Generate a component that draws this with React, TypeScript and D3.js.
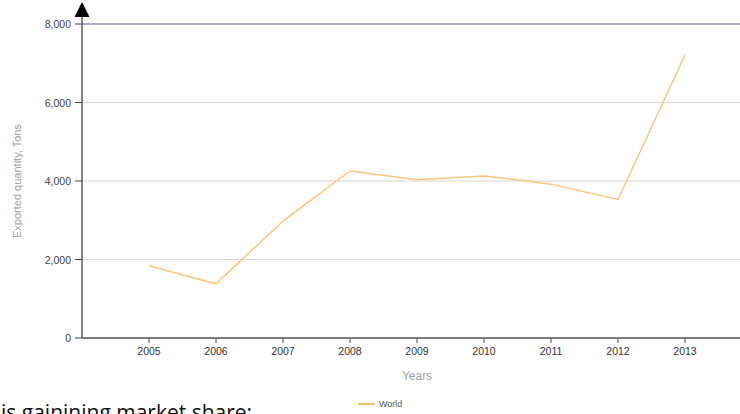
import React from "react";
import * as d3 from "d3";

const years = [2005, 2006, 2007, 2008, 2009, 2010, 2011, 2012, 2013];
const worldValues = [1840, 1380, 2980, 4255, 4030, 4130, 3920, 3530, 7210];
const yTicks = [0, 2000, 4000, 6000, 8000];
const seriesName = "World";
const xTitle = "Years";
const yTitle = "Exported quantity, Tons";
const caption = "is gainining market share:";

export default function App() {
  const W = 740, H = 414;
  const x = d3.scaleLinear().domain([2004, 2014]).range([82, 752]);
  const y = d3.scaleLinear().domain([0, 8000]).range([338, 24]);
  const line = d3
    .line<number>()
    .x((_, i) => x(years[i]))
    .y((d) => y(d));
  const fmt = d3.format(",");
  const font = "Liberation Sans, Arial, sans-serif";
  return (
    <svg
      width={W}
      height={H}
      style={{ position: "absolute", left: 0, top: 0, background: "#fff" }}
      fontFamily={font}
    >
      {yTicks.map((t) => (
        <g key={t}>
          {t > 0 && (
            <line
              x1={x(2004)}
              x2={W}
              y1={y(t)}
              y2={y(t)}
              stroke={t === 8000 ? "#8a93b6" : "#d4d4d4"}
              strokeWidth={t === 8000 ? 1.6 : 1}
            />
          )}
          <line x1={x(2004) - 7} x2={x(2004)} y1={y(t)} y2={y(t)} stroke="#444" strokeWidth={1} />
          <text x={x(2004) - 11} y={y(t) + 4} textAnchor="end" fontSize={10.5} fill="#444">
            {fmt(t)}
          </text>
        </g>
      ))}
      {years.map((yr) => (
        <g key={yr}>
          <line x1={x(yr)} x2={x(yr)} y1={y(0)} y2={y(0) + 5} stroke="#444" />
          <text x={x(yr)} y={y(0) + 17} textAnchor="middle" fontSize={10.5} fill="#333">
            {yr}
          </text>
        </g>
      ))}
      <line x1={x(2004)} x2={W} y1={y(0)} y2={y(0)} stroke="#555" strokeWidth={1.5} />
      <line x1={x(2004)} x2={x(2004)} y1={12} y2={y(0)} stroke="#333" strokeWidth={1.2} />
      <polygon
        points={`${x(2004)},2 ${x(2004) - 7.5},17 ${x(2004) + 7.5},17`}
        fill="#000"
      />
      <path d={line(worldValues) || ""} fill="none" stroke="#f8c77a" strokeWidth={1.5} />
      <text
        transform={`translate(21,${(y(0) + y(8000)) / 2}) rotate(-90)`}
        textAnchor="middle"
        fontSize={11}
        fill="#a0a0a0"
      >
        {yTitle}
      </text>
      <text x={x(2009)} y={380} textAnchor="middle" fontSize={12} fill="#a0a0a0">
        {xTitle}
      </text>
      <line x1={358} x2={375} y1={404} y2={404} stroke="#f5c060" strokeWidth={2} />
      <text x={379} y={407} fontSize={9} fill="#555">
        {seriesName}
      </text>
      <text x={1} y={420} fontSize={21} fill="#111" fontFamily="Open Sans, Carlito, sans-serif">
        {caption}
      </text>
    </svg>
  );
}
